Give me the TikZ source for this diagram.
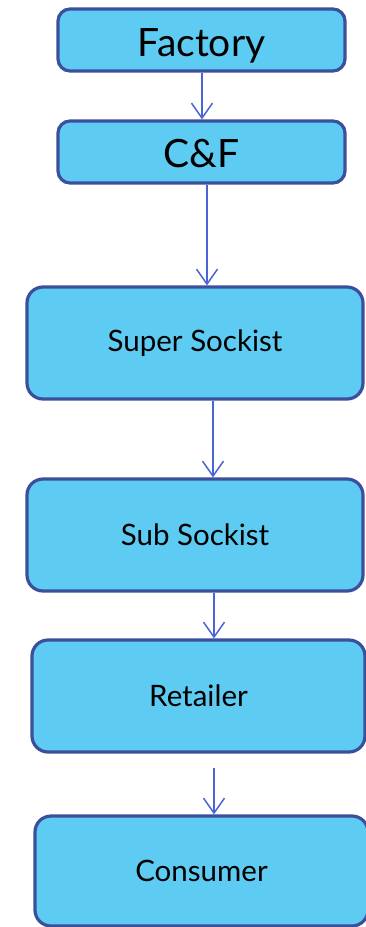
\documentclass[tikz,border=0pt]{standalone}
\usepackage{fontspec}
\setmainfont{Lato}
\usetikzlibrary{arrows.meta}
\definecolor{boxfill}{HTML}{5DCBF2}
\definecolor{boxline}{HTML}{3B4F9B}
\definecolor{flowline}{HTML}{4A64D4}
\tikzset{
  stage/.style={draw=boxline, fill=boxfill, line width=3.2pt, inner sep=0pt,
    text=black, align=center},
  smallstage/.style={stage, minimum width=287pt, minimum height=62pt,
    rounded corners=12pt, font=\fontsize{39}{44}\selectfont},
  bigstage/.style={stage, minimum width=336pt, minimum height=112pt,
    rounded corners=16pt, font=\fontsize{29.5}{33}\selectfont},
  flow/.style={draw=flowline, line width=1.5pt,
    -{Straight Barb[length=15pt,width=21pt,line width=1.5pt]}}
}
\begin{document}
\begin{tikzpicture}[x=1pt,y=-1pt]
            \useasboundingbox (0,0) rectangle (365,927);
            \node (1) [smallstage] at (201.5,40) {\raisebox{-16.5pt}[0pt][0pt]{Factory}};
            \node (2) [smallstage] at (201.5,152) {\raisebox{-15pt}[0pt][0pt]{C\&F}};
            \node (3) [bigstage] at (195,343) {Super Sockist};
            \node (4) [bigstage] at (195,535) {Sub Sockist};
            \node (5) [bigstage, minimum width=333pt] at (198.5,696) {Retailer};
            \node (6) [bigstage, minimum width=333pt, minimum height=110pt] at (201.5,871) {Consumer};
            \coordinate (7) at (214,768);
            
            \draw [flow] ([xshift=0.5]1.south) to ([xshift=0.5]2.north);
            \draw [flow] ([xshift=5.5]2.south) to ([xshift=12]3.north);
            \draw [flow] ([xshift=18]3.south) to ([xshift=18]4.north);
            \draw [flow] ([xshift=19]4.south) to ([xshift=15.5]5.north);
            \draw [flow] (7) to ([xshift=12.5]6.north);
        \end{tikzpicture}
\end{document}
